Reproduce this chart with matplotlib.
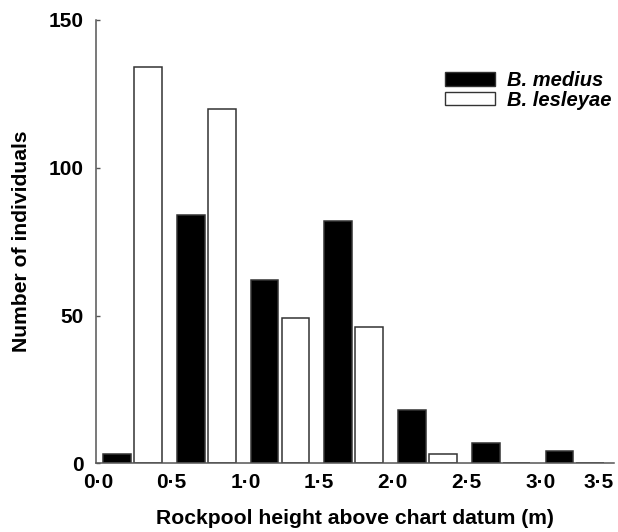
import matplotlib
matplotlib.use("Agg")
import matplotlib.pyplot as plt
from matplotlib.patches import Patch

plt.rcParams['font.family'] = ['Liberation Sans', 'DejaVu Sans']

bins = [0.0, 0.5, 1.0, 1.5, 2.0, 2.5, 3.0]
medius = [3, 84, 62, 82, 18, 7, 4]
lesleyae = [134, 120, 49, 46, 3, 0, 0]
xticks = [0.0, 0.5, 1.0, 1.5, 2.0, 2.5, 3.0, 3.5]
xticklabels = ['0\u00b70', '0\u00b75', '1\u00b70', '1\u00b75', '2\u00b70', '2\u00b75', '3\u00b70', '3\u00b75']
yticks = [0, 50, 100, 150]

fig = plt.figure(figsize=(6.18, 5.32), dpi=100)
ax = fig.add_axes([96/618, 1 - 463.3/532, 518/618, (463.3 - 20)/532])

edge = '#333333'
bw = 0.188
off_b = 0.036
off_w = 0.245
ax.bar([b + off_b for b in bins], medius, width=bw, align='edge',
       color='black', edgecolor=edge, linewidth=1.1)
ax.bar([b + off_w for b in bins], lesleyae, width=bw, align='edge',
       color='white', edgecolor=edge, linewidth=1.1)

ax.set_xlim(-0.0136, 3.5)
ax.set_ylim(0, 150)
ax.set_xticks(xticks)
ax.set_xticklabels(xticklabels)
ax.set_yticks(yticks)

for s in ['top', 'right']:
    ax.spines[s].set_visible(False)
for s in ['left', 'bottom']:
    ax.spines[s].set_color('#555555')
    ax.spines[s].set_linewidth(1.1)

ax.tick_params(axis='x', length=0, pad=7, labelsize=15)
ax.tick_params(axis='y', direction='in', length=3, width=1.0, color='#555555',
               pad=9, labelsize=15)
for lab in ax.get_xticklabels() + ax.get_yticklabels():
    lab.set_fontweight('bold')
ax.get_xticklabels()[-1].set_ha('right')

ax.set_xlabel('Rockpool height above chart datum (m)', fontsize=15.2,
              fontweight='bold', va='baseline')
ax.xaxis.set_label_coords(0.5, (463.3 - 524) / 443.3)
ax.set_ylabel('Number of individuals', fontsize=15.2, fontweight='bold',
              va='center')
ax.yaxis.set_label_coords((22 - 96) / 518, 0.5)

handles = [Patch(facecolor='black', edgecolor=edge, linewidth=1.0),
           Patch(facecolor='white', edgecolor=edge, linewidth=1.0)]
leg = fig.legend(handles, ['B. medius', 'B. lesleyae'],
                 loc='upper left', bbox_to_anchor=(445/618, 1 - 71/532),
                 frameon=False, borderpad=0, borderaxespad=0,
                 handlelength=2.46, handleheight=0.64, handletextpad=0.6,
                 labelspacing=0.04,
                 prop={'size': 14.5, 'weight': 'bold', 'style': 'italic'})

fig.savefig('out.png', dpi=100)
